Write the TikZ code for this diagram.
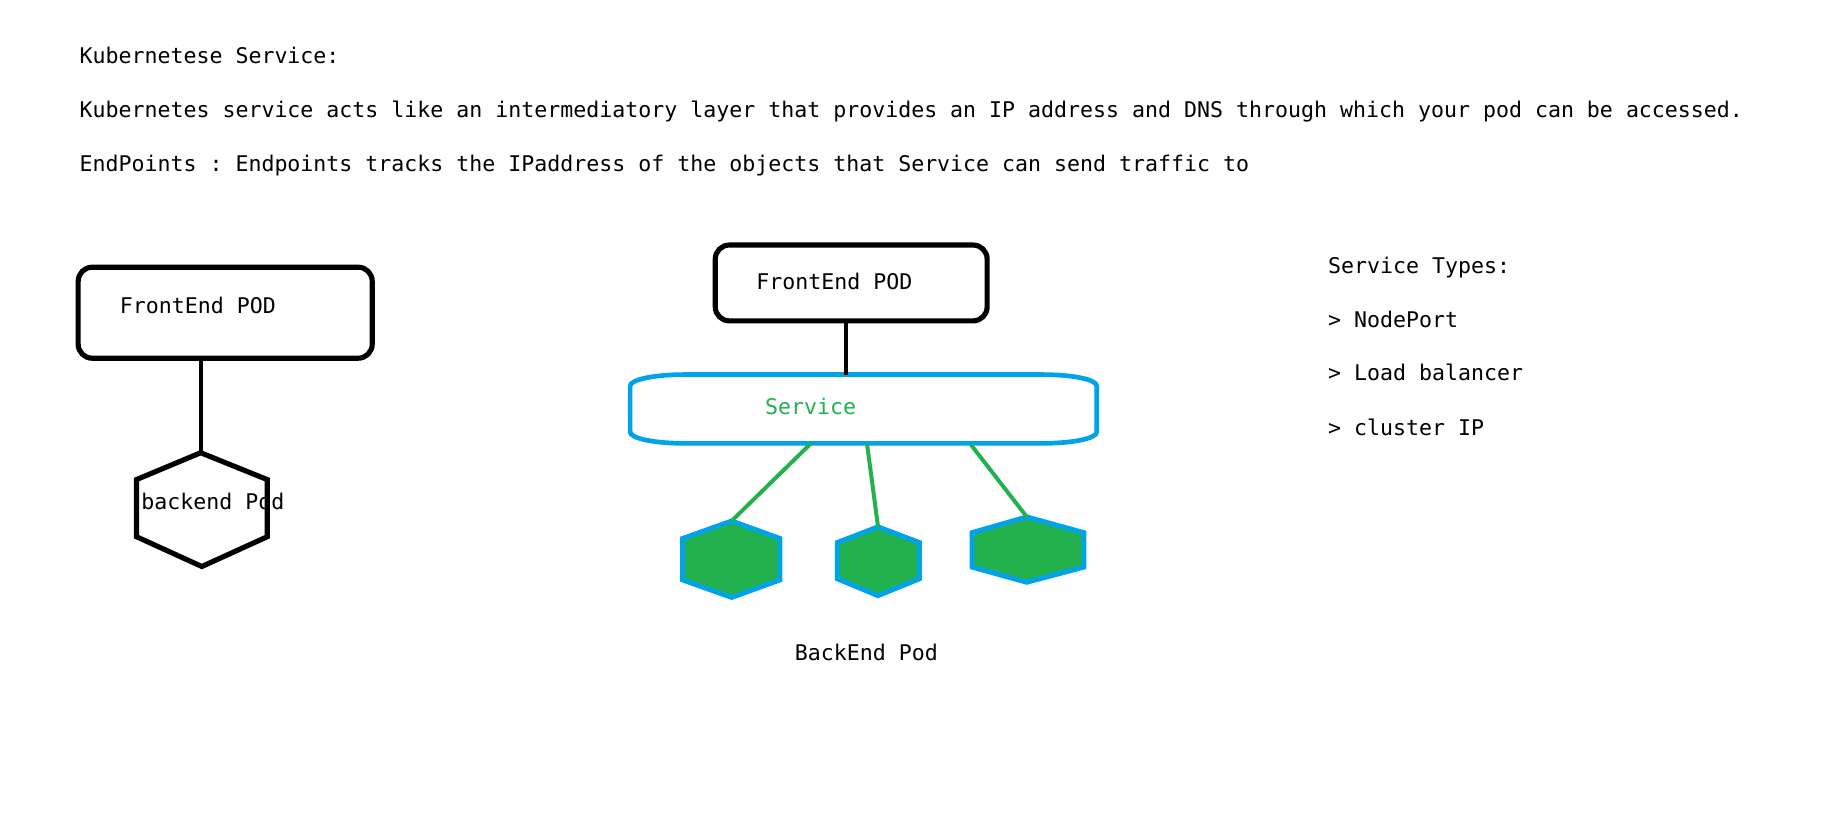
\documentclass[tikz,border=0pt]{standalone}
\usepackage{fontspec}
\setmonofont{DejaVu Sans Mono}
\usetikzlibrary{calc}
\definecolor{pblue}{HTML}{00A2E8}
\definecolor{pgreen}{HTML}{22B14C}
\begin{document}
\begin{tikzpicture}[x=1pt,y=-1pt,
  txt/.style={font=\ttfamily\fontsize{18.5}{22}\selectfont, inner sep=0pt, anchor=base west},
  podbox/.style={draw, line width=4.4pt, rounded corners=12pt, inner sep=0pt},
  blk/.style={line width=3.6pt},
  glink/.style={draw=pgreen, line width=3.4pt},
  hexb/.style={draw, line width=4.4pt},
  hexg/.style={draw=pblue, fill=pgreen, line width=4.2pt},
  svcshape/.style={draw=pblue, line width=4pt}]
\fill[white] (0,0) rectangle (1567.5,703.6);
\useasboundingbox (0,0) rectangle (1567.5,703.6);

% header text
\node[txt] (t1) at (68,54) {Kubernetese Service:};
\node[txt] (t2) at (68,101) {Kubernetes service acts like an intermediatory layer that provides an IP address and DNS through which your pod can be accessed.};
\node[txt] (t3) at (68,147) {EndPoints : Endpoints tracks the IPaddress of the objects that Service can send traffic to};

% left diagram
\node[podbox, minimum width=252pt, minimum height=78pt] (lbox) at (193,268) {};
\node[txt] (llab) at (102.5,268.5) {FrontEnd POD};
\coordinate (lhex) at (172,388);
\draw[hexb] (lhex) -- (229,411) -- (229,460) -- (173,485.5) -- (117,460) -- (117,411) -- cycle;
\node[txt] (lhexlab) at (121,437) {backend Pod};
\draw[blk] (lbox.south -| lhex) -- (lhex);

% middle diagram
\node[podbox, minimum width=233pt, minimum height=65pt] (mbox) at (729.5,242.5) {};
\node[txt] (mlab) at (648,248) {FrontEnd POD};
\draw[svcshape] (540,331) .. controls (540,325) and (561.5,321) .. (588,321)
  -- (892,321) .. controls (918.5,321) and (940,325) .. (940,331)
  -- (940,370) .. controls (940,376) and (918.5,380) .. (892,380)
  -- (588,380) .. controls (561.5,380) and (540,376) .. (540,370) -- cycle;
\coordinate (svctop) at (725,321);
\node[txt, text=pgreen] (svclab) at (655.5,355) {Service};
\draw[blk] (mbox.south -| svctop) -- (svctop);

\coordinate (s1) at (695,380);
\coordinate (s2) at (743,380);
\coordinate (s3) at (832,381);
\coordinate (h1) at (627,446.5);
\coordinate (h2) at (752.5,451.5);
\coordinate (h3) at (880,443);
\draw[hexg] (h1) -- (668.5,461.5) -- (668.5,497) -- (627,512) -- (585,497) -- (585,461.5) -- cycle;
\draw[hexg] (h2) -- (788,465) -- (788,496) -- (752.5,510.5) -- (717.5,496) -- (717.5,465) -- cycle;
\draw[hexg] (h3) -- (929,456.5) -- (929,486) -- (880,499) -- (833,486) -- (833,456.5) -- cycle;
\draw[glink] (s1) -- (h1);
\draw[glink] (s2) -- (h2);
\draw[glink] (s3) -- (h3);
\node[txt] (blab) at (681,566) {BackEnd Pod};

% service types
\node[txt] (st0) at (1138,234) {Service Types:};
\node[txt] (st1) at (1138,280.5) {> NodePort};
\node[txt] (st2) at (1138,326.5) {> Load balancer};
\node[txt] (st3) at (1138,373) {> cluster IP};
\end{tikzpicture}
\end{document}
